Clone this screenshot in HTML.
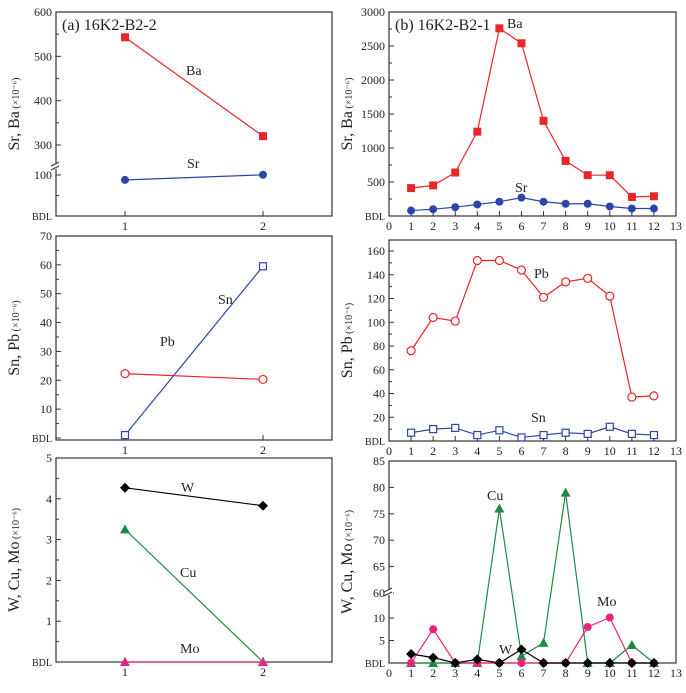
<!DOCTYPE html>
<html><head><meta charset="utf-8">
<style>
body{margin:0;background:#fff;width:686px;height:688px;overflow:hidden}
svg{font-family:"Liberation Serif",serif}
</style></head>
<body>
<svg id="c" width="686" height="688" xmlns="http://www.w3.org/2000/svg"></svg>
<script>
// ---- data ----
const leftX = [1, 2];
const aBa = [543, 320];
const aSr = [88, 103];
const aSn = [1, 59.5];
const aPb = [22.3, 20.3];
const aW = [4.27, 3.83];
const aCu = [3.25, 0];
const aMo = [0, 0];
const rightX = [1,2,3,4,5,6,7,8,9,10,11,12];
const bBa = [410,450,640,1240,2760,2540,1400,810,600,600,280,290];
const bSr = [80,100,130,170,210,270,210,180,180,140,110,110];
const bPb = [76,104,101,152,152,144,121,134,137,122,37,38];
const bSn = [7,10,11,5,9,3,5,7,6,12,6,5];
const bCu = [0,0,0,0,76,1.5,4.5,79,0,0,4,0];
const bMo = [0,7.5,0,0,0,0,0,0,8,11,0,0];
const bW = [2,1.2,0,0.8,0,3,0,0,0,0,0,0];
const rightTicks = [0,1,2,3,4,5,6,7,8,9,10,11,12,13];

const svg = document.getElementById('c');
const NS = 'http://www.w3.org/2000/svg';
function el(tag, attrs, parent){const e=document.createElementNS(NS,tag);for(const k in attrs)e.setAttribute(k,attrs[k]);(parent||svg).appendChild(e);return e;}
function txt(x,y,s,attrs,name){const t=el('text',Object.assign({x:x,y:y},attrs||{}));t.textContent=s;


return t;}

function piece(segs){
  return v=>{for(let i=0;i<segs.length-1;i++){const [a,ya]=segs[i],[b,yb]=segs[i+1];if(v<=b||i===segs.length-2)return ya+(v-a)*(yb-ya)/(b-a);}};
}

function panel(p){
  const g=el('g',{});
  
  
  const sx=v=>p.x0+(v-p.xd[0])*(p.x1-p.x0)/(p.xd[1]-p.xd[0]);
  const sy=p.sy;
  const r=el('rect',{x:p.x0,y:p.y0,width:p.x1-p.x0,height:p.y1-p.y0,fill:'none',stroke:'#333','stroke-width':1.2},g);
  
  
  p.yt.forEach(t=>{const y=sy(t[0]);
    el('line',{x1:p.x0,x2:p.x0+5,y1:y,y2:y,stroke:'#333'},g);
    txt(p.x0-4,y+4,t[1],{'text-anchor':'end','font-size':t[1]==='BDL'?10:12,fill:'#222'},'y-tick-label');
  });
  (p.ym||[]).forEach(v=>{const y=sy(v);el('line',{x1:p.x0,x2:p.x0+3,y1:y,y2:y,stroke:'#333'},g);});
  p.xt.forEach(v=>{const x=sx(v);el('line',{x1:x,x2:x,y1:p.y1,y2:p.y1-5,stroke:'#333'},g);
    txt(x,p.y1+14,String(v),{'text-anchor':'middle','font-size':12,fill:'#222'},'x-tick-label');
  });
  if(p.brk){const y=p.brk;el('rect',{x:p.x0-4,y:y-3,width:8,height:5,fill:'#fff'},g);
    el('path',{d:`M${p.x0-5},${y-1} l8,-4 M${p.x0-5},${y+3} l8,-4`,stroke:'#333',fill:'none'},g);}
  const yl=txt(0,0,'',{transform:`translate(${p.x0-37},${(p.y0+p.y1)/2}) rotate(-90)`,'text-anchor':'middle','font-size':16,fill:'#222'},'y-axis-title');
  yl.innerHTML=p.ylab+'<tspan font-size="10"> (×10⁻⁶)</tspan>';
  if(p.title)txt(p.x0+6,p.y0+18,p.title,{'font-size':16,fill:'#222'},'panel-title');
  p.series.forEach(s=>{
    const pts=s.x.map((xv,i)=>[sx(xv),sy(s.y[i])]);
    const pl=el('polyline',{points:pts.map(q=>q.join(',')).join(' '),fill:'none',stroke:s.c,'stroke-width':1.2},g);
    
    
    pts.forEach(([x,y])=>{let m;
      if(s.m==='sq')m=el('rect',{x:x-4,y:y-4,width:8,height:8,fill:s.c},g);
      else if(s.m==='osq')m=el('rect',{x:x-3.5,y:y-3.5,width:7,height:7,fill:'#fff',stroke:s.c,'stroke-width':1.2},g);
      else if(s.m==='ci')m=el('circle',{cx:x,cy:y,r:4,fill:s.c},g);
      else if(s.m==='oci')m=el('circle',{cx:x,cy:y,r:4,fill:'#fff',stroke:s.c,'stroke-width':1.2},g);
      else if(s.m==='tri')m=el('path',{d:`M${x},${y-5} L${x+5},${y+4} L${x-5},${y+4}Z`,fill:s.c},g);
      else m=el('path',{d:`M${x},${y-5} L${x+5},${y} L${x},${y+5} L${x-5},${y}Z`,fill:s.c},g);
      
      
    });
  });
  (p.labels||[]).forEach(l=>txt(l[0],l[1],l[2],{'font-size':14,fill:'#222'},'series-label'));
}

const RED='#e8262b',BLUE='#2b45a8',GREEN='#1e8a45',MAG='#e8247f';
const L={x0:56,x1:332,xd:[0.5,2.5]}, R={x0:389,x1:676,xd:[0,13]};

panel(Object.assign({name:'panel-a-sr-ba',y0:12,y1:216,title:'(a) 16K2-B2-2',ylab:'Sr, Ba',
  sy:piece([[0,216],[100,175],[200,168],[300,145],[600,12]]),
  yt:[[600,'600'],[500,'500'],[400,'400'],[300,'300'],[100,'100'],[0,'BDL']],ym:[550,450,350,50],brk:167,xt:[1,2],
  series:[{n:'ba',x:leftX,y:aBa,c:RED,m:'sq'},{n:'sr',x:leftX,y:aSr,c:BLUE,m:'ci'}],
  labels:[[186,75,'Ba'],[187,168,'Sr']]},L));
panel(Object.assign({name:'panel-a-sn-pb',y0:236,y1:440,ylab:'Sn, Pb',
  sy:piece([[0,438],[70,236]]),
  yt:[[70,'70'],[60,'60'],[50,'50'],[40,'40'],[30,'30'],[20,'20'],[10,'10'],[0,'BDL']],ym:[65,55,45,35,25,15,5],xt:[1,2],
  series:[{n:'sn',x:leftX,y:aSn,c:BLUE,m:'osq'},{n:'pb',x:leftX,y:aPb,c:RED,m:'oci'}],
  labels:[[218,304,'Sn'],[160,346,'Pb']]},L));
panel(Object.assign({name:'panel-a-w-cu-mo',y0:458,y1:662,ylab:'W, Cu, Mo',
  sy:piece([[0,662],[5,458]]),
  yt:[[5,'5'],[4,'4'],[3,'3'],[2,'2'],[1,'1'],[0,'BDL']],ym:[4.5,3.5,2.5,1.5,0.5],xt:[1,2],
  series:[{n:'w',x:leftX,y:aW,c:'#000',m:'dia'},{n:'cu',x:leftX,y:aCu,c:GREEN,m:'tri'},{n:'mo',x:leftX,y:aMo,c:MAG,m:'tri'}],
  labels:[[181,492,'W'],[180,577,'Cu'],[180,653,'Mo']]},L));

panel(Object.assign({name:'panel-b-sr-ba',y0:12,y1:216,title:'(b) 16K2-B2-1',ylab:'Sr, Ba',
  sy:piece([[0,216],[3000,12]]),
  yt:[[3000,'3000'],[2500,'2500'],[2000,'2000'],[1500,'1500'],[1000,'1000'],[500,'500'],[0,'BDL']],ym:[2750,2250,1750,1250,750,250],xt:rightTicks,
  series:[{n:'ba',x:rightX,y:bBa,c:RED,m:'sq'},{n:'sr',x:rightX,y:bSr,c:BLUE,m:'ci'}],
  labels:[[507,28,'Ba'],[515,192,'Sr']]},R));
panel(Object.assign({name:'panel-b-sn-pb',y0:240,y1:441,ylab:'Sn, Pb',
  sy:piece([[0,441],[160,251]]),
  yt:[[160,'160'],[140,'140'],[120,'120'],[100,'100'],[80,'80'],[60,'60'],[40,'40'],[20,'20'],[0,'BDL']],ym:[150,130,110,90,70,50,30,10],xt:rightTicks,
  series:[{n:'pb',x:rightX,y:bPb,c:RED,m:'oci'},{n:'sn',x:rightX,y:bSn,c:BLUE,m:'osq'}],
  labels:[[534,278,'Pb'],[531,422,'Sn']]},R));
panel(Object.assign({name:'panel-b-w-cu-mo',y0:461,y1:663,ylab:'W, Cu, Mo',
  sy:piece([[0,663],[10,618],[60,593],[85,461]]),
  yt:[[85,'85'],[80,'80'],[75,'75'],[70,'70'],[65,'65'],[60,'60'],[10,'10'],[5,'5'],[0,'BDL']],brk:593,xt:rightTicks,
  series:[{n:'cu',x:rightX,y:bCu,c:GREEN,m:'tri'},{n:'mo',x:rightX,y:bMo,c:MAG,m:'ci'},{n:'w',x:rightX,y:bW,c:'#000',m:'dia'}],
  labels:[[487,500,'Cu'],[597,606,'Mo'],[499,654,'W']]},R));
</script>
</body></html>
